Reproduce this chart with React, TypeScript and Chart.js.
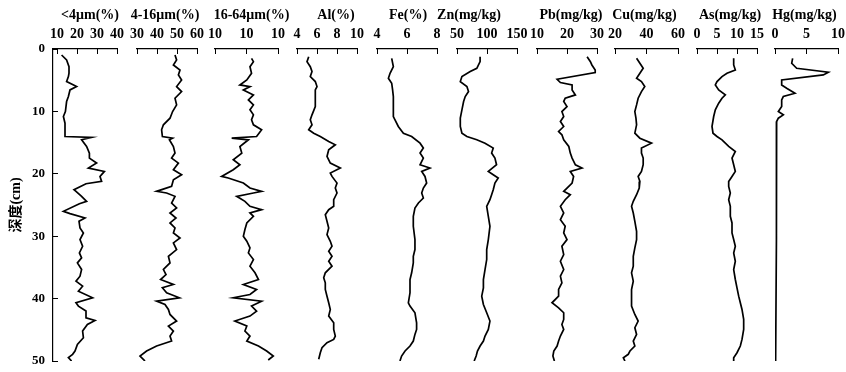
import React, { useEffect, useRef } from 'react';
import { Chart, registerables } from 'chart.js';

Chart.register(...registerables);

// ---------- data ----------
const depthTitle = '深度(cm)';
const depthTicks = [0, 10, 20, 30, 40, 50];

const panelTitles = ['<4μm(%)', '4-16μm(%)', '16-64μm(%)', 'Al(%)', 'Fe(%)', 'Zn(mg/kg)', 'Pb(mg/kg)', 'Cu(mg/kg)', 'As(mg/kg)', 'Hg(mg/kg)'];
const panelMin = [8, 30, 0, 4, 4, 50, 10, 20, 0, 0];
const panelMax = [40, 60, 20, 10, 8, 150, 30, 60, 15, 10];
const panelTickValues = [
  [10, 20, 30, 40], [30, 40, 50, 60], [0, 10, 20], [4, 6, 8, 10], [4, 6, 8],
  [50, 100, 150], [10, 20, 30], [20, 40, 60], [0, 5, 10, 15], [0, 5, 10],
];
const panelTickLabels = [
  ['10', '20', '30', '40'], ['30', '40', '50', '60'], ['10', '10', '10'], ['4', '6', '8', '10'], ['4', '6', '8'],
  ['50', '100', '150'], ['10', '20', '30'], ['20', '40', '60'], ['0', '5', '10', '15'], ['0', '5', '10'],
];

const fineDepth = [0.96, 1.76, 2.83, 3.89, 4.42, 5.22, 6.02, 6.56, 7.62, 8.42, 10.02, 10.82, 11.89, 12.95, 14.02, 14.18, 14.55, 15.62, 16.68, 17.48, 18.28, 19.08, 19.62, 20.42, 21.22, 21.59, 22.55, 22.81, 23.61, 24.41, 24.79, 26.01, 26.39, 27.08, 27.61, 28.68, 29.48, 30.54, 31.61, 32.68, 33.48, 34.28, 35.34, 36.41, 37.21, 38.01, 38.81, 39.87, 40.67, 41.2, 42.0, 43.07, 43.5, 44.14, 45.2, 46.27, 47.33, 48.4, 48.93, 49.47, 50.0];
const fineVal = [12.3, 14.8, 16.0, 16.0, 15.7, 14.8, 19.8, 16.5, 15.7, 14.8, 14.2, 13.2, 14.0, 14.0, 14.0, 27.3, 22.3, 24.8, 26.2, 26.2, 29.8, 25.7, 33.7, 31.5, 32.3, 24.5, 18.5, 19.5, 22.3, 24.8, 21.2, 13.2, 16.5, 24.0, 21.0, 21.5, 23.2, 21.5, 22.8, 21.2, 22.3, 20.2, 22.3, 21.5, 19.5, 22.8, 20.7, 27.8, 19.5, 20.7, 24.5, 24.5, 29.0, 25.2, 22.8, 23.2, 20.2, 19.0, 17.8, 15.7, 17.3];

const siltDepth = [0.96, 1.76, 2.56, 3.36, 4.16, 4.96, 6.02, 6.82, 7.89, 8.96, 10.02, 11.09, 12.15, 12.95, 14.02, 14.29, 14.55, 15.62, 16.68, 17.48, 18.28, 19.35, 20.15, 20.95, 22.01, 22.81, 23.08, 23.61, 24.68, 25.48, 26.28, 27.08, 27.88, 28.68, 29.48, 30.28, 31.08, 32.14, 33.21, 34.28, 35.34, 36.14, 36.94, 37.74, 38.27, 39.07, 39.87, 40.41, 40.94, 41.74, 42.54, 43.6, 44.4, 45.2, 46.0, 46.8, 47.6, 48.4, 49.2, 50.0];
const siltVal = [49.0, 49.8, 48.2, 51.5, 50.7, 52.3, 49.8, 52.3, 49.0, 49.8, 47.8, 46.5, 43.2, 42.3, 42.7, 47.8, 46.2, 48.2, 49.0, 47.3, 50.7, 48.2, 52.3, 48.2, 47.3, 39.8, 44.8, 49.0, 47.3, 49.8, 46.5, 49.5, 46.5, 49.0, 48.2, 51.5, 48.2, 49.8, 45.7, 46.5, 43.2, 44.5, 41.8, 48.2, 42.7, 44.8, 51.2, 39.8, 44.0, 45.7, 46.5, 49.8, 45.7, 48.2, 46.5, 47.3, 39.8, 34.8, 31.5, 34.0];

const coarseDepth = [1.49, 2.03, 2.83, 3.89, 4.96, 5.76, 6.02, 6.56, 7.36, 8.16, 8.96, 9.75, 10.55, 11.35, 12.15, 12.95, 14.02, 14.29, 14.55, 15.62, 16.68, 17.75, 18.55, 19.35, 20.42, 20.68, 21.48, 22.28, 22.81, 23.08, 23.61, 24.41, 25.21, 25.75, 26.28, 26.81, 27.88, 28.94, 30.01, 30.81, 31.88, 32.68, 33.74, 34.81, 35.87, 36.94, 37.74, 38.54, 39.34, 39.87, 40.41, 41.2, 42.0, 42.8, 43.6, 44.4, 45.2, 46.0, 46.8, 47.6, 48.4, 49.2, 49.84];
const coarseVal = [11.6, 12.2, 11.1, 11.6, 10.1, 7.9, 11.1, 9.0, 12.2, 10.6, 12.2, 11.1, 12.2, 11.6, 12.2, 14.8, 13.2, 5.3, 10.6, 7.9, 8.5, 5.8, 7.9, 5.8, 2.1, 4.2, 9.0, 11.1, 14.8, 12.2, 6.9, 9.5, 11.1, 14.8, 11.1, 12.2, 10.1, 9.5, 9.0, 10.1, 11.1, 10.6, 12.2, 11.1, 12.7, 13.8, 9.0, 13.2, 11.1, 5.8, 14.8, 11.6, 13.2, 11.1, 6.3, 10.1, 9.5, 11.1, 10.1, 13.8, 16.4, 18.5, 16.9];

const alDepth = [1.23, 2.03, 2.83, 3.62, 4.42, 5.22, 6.02, 6.56, 7.62, 9.22, 10.55, 11.35, 12.15, 12.95, 13.49, 14.02, 14.82, 15.35, 16.15, 17.22, 18.28, 19.08, 19.88, 20.42, 21.48, 22.28, 23.08, 24.15, 25.21, 25.75, 26.55, 27.61, 28.68, 29.74, 30.81, 31.61, 32.41, 33.21, 34.01, 34.81, 35.87, 36.67, 37.47, 38.54, 39.61, 40.67, 41.74, 42.8, 43.87, 44.94, 46.0, 46.54, 47.07, 47.87, 48.67, 49.73];
const alVal = [5.17, 5.0, 5.33, 5.5, 5.33, 5.83, 6.0, 5.83, 5.83, 5.83, 5.5, 5.33, 5.5, 5.17, 5.67, 6.33, 7.17, 7.83, 7.17, 7.0, 7.33, 8.33, 7.33, 7.5, 8.0, 7.83, 8.0, 7.67, 7.67, 7.17, 6.83, 7.0, 7.17, 7.0, 7.33, 7.5, 7.17, 7.5, 7.17, 7.5, 6.83, 6.67, 6.83, 6.83, 7.0, 7.17, 7.33, 7.17, 7.67, 7.67, 7.83, 7.67, 7.0, 6.5, 6.33, 6.17];

const feDepth = [1.49, 2.83, 3.89, 4.69, 5.49, 6.56, 7.62, 9.22, 10.82, 11.35, 12.42, 13.49, 14.02, 15.09, 15.88, 16.68, 17.48, 18.55, 19.08, 19.62, 20.42, 21.48, 22.28, 23.08, 23.88, 24.68, 25.48, 26.81, 28.41, 30.54, 32.14, 33.21, 34.28, 35.87, 36.94, 38.01, 39.07, 40.67, 41.2, 42.27, 43.87, 44.94, 45.74, 46.8, 47.6, 48.4, 49.2, 50.0];
const feVal = [4.98, 5.09, 4.87, 4.76, 4.98, 5.04, 5.09, 5.09, 5.09, 5.2, 5.42, 5.76, 6.31, 6.87, 7.09, 6.87, 7.09, 6.87, 7.53, 6.98, 7.2, 7.31, 7.09, 6.98, 7.09, 6.76, 6.53, 6.42, 6.42, 6.53, 6.53, 6.42, 6.42, 6.31, 6.2, 6.2, 6.2, 6.09, 6.2, 6.53, 6.64, 6.64, 6.53, 6.42, 6.2, 5.87, 5.64, 5.53];

const znDepth = [1.23, 2.03, 3.09, 3.62, 4.42, 5.22, 6.02, 6.82, 7.62, 8.42, 9.75, 11.09, 12.42, 13.49, 14.02, 14.55, 15.09, 15.88, 16.68, 17.48, 18.55, 19.62, 20.15, 20.68, 21.48, 22.55, 23.35, 24.15, 25.21, 26.81, 28.41, 30.54, 32.14, 33.74, 35.34, 36.94, 38.27, 39.61, 40.94, 42.27, 43.6, 44.94, 46.0, 46.8, 47.6, 48.4, 49.2, 50.0];
const znVal = [88.5, 88.5, 83.0, 72.0, 58.2, 55.5, 66.5, 69.2, 63.7, 61.0, 58.2, 55.5, 55.5, 58.2, 66.5, 83.0, 96.7, 110.4, 107.7, 113.2, 115.9, 102.2, 110.4, 118.7, 113.2, 110.4, 107.7, 104.9, 99.5, 102.2, 104.9, 102.2, 99.5, 99.5, 96.7, 94.0, 94.0, 91.2, 94.0, 99.5, 104.9, 102.2, 96.7, 94.0, 88.5, 84.1, 81.9, 78.6];

const pbDepth = [1.23, 2.03, 2.56, 3.36, 3.78, 4.85, 5.38, 5.76, 6.56, 7.36, 7.89, 8.42, 9.22, 10.02, 10.82, 11.62, 12.42, 13.22, 13.75, 14.55, 15.62, 16.68, 17.48, 18.55, 19.08, 19.62, 20.42, 21.48, 22.28, 22.81, 23.35, 24.15, 25.21, 26.28, 27.35, 28.41, 29.48, 30.54, 31.61, 32.94, 34.01, 35.34, 36.41, 37.47, 38.54, 39.61, 40.67, 41.47, 42.27, 43.34, 44.14, 44.94, 46.0, 46.8, 47.6, 48.4, 49.2, 50.0];
const pbVal = [26.7, 27.8, 28.3, 29.4, 29.4, 16.7, 17.8, 21.7, 21.7, 22.8, 19.4, 18.9, 20.0, 18.3, 18.9, 17.8, 18.9, 17.2, 18.3, 18.9, 20.6, 21.1, 21.7, 22.8, 25.0, 21.1, 22.2, 21.7, 20.0, 18.9, 21.1, 19.4, 17.8, 18.9, 17.8, 19.4, 18.9, 20.0, 18.3, 18.9, 17.8, 18.9, 17.8, 18.3, 17.2, 17.2, 15.0, 17.2, 18.9, 18.9, 18.3, 18.9, 17.8, 17.2, 16.7, 15.6, 15.3, 15.8];

const cuDepth = [1.49, 2.29, 3.09, 3.89, 4.69, 5.22, 6.02, 6.82, 7.89, 8.96, 10.02, 11.09, 12.15, 13.49, 14.29, 15.09, 15.88, 16.68, 17.48, 18.55, 19.62, 20.42, 21.22, 22.28, 23.35, 24.41, 25.21, 26.28, 27.61, 29.21, 30.54, 31.88, 33.21, 34.81, 35.87, 37.21, 38.54, 39.87, 41.2, 42.54, 43.6, 44.67, 45.74, 46.8, 47.6, 48.4, 48.93, 49.47, 50.0];
const cuVal = [33.7, 35.8, 37.9, 35.8, 33.7, 36.8, 38.9, 36.8, 34.7, 33.7, 32.6, 33.3, 33.7, 32.6, 35.8, 43.2, 36.8, 36.8, 37.9, 37.9, 36.8, 34.7, 35.8, 35.4, 33.7, 31.6, 30.5, 31.6, 32.6, 33.7, 33.7, 32.6, 31.6, 31.6, 30.5, 31.6, 30.5, 30.5, 30.5, 32.6, 34.7, 32.6, 33.7, 31.6, 32.6, 29.5, 28.4, 25.3, 26.3];

const asDepth = [1.49, 2.56, 3.36, 3.89, 4.42, 5.22, 5.76, 6.56, 7.36, 7.89, 8.69, 9.75, 10.82, 12.42, 13.49, 14.02, 14.55, 15.62, 16.42, 17.48, 18.55, 19.62, 20.42, 21.22, 22.01, 23.08, 24.15, 25.21, 26.81, 27.88, 29.48, 30.54, 31.61, 32.68, 34.01, 35.34, 36.94, 38.27, 39.61, 40.67, 41.74, 43.34, 44.94, 46.54, 47.6, 48.67, 49.47, 50.0];
const asVal = [9.17, 9.17, 9.58, 7.5, 6.25, 5.0, 4.58, 5.42, 7.08, 6.25, 5.42, 4.58, 4.17, 3.75, 4.0, 5.0, 6.25, 7.92, 9.58, 8.75, 9.17, 9.58, 8.75, 7.92, 7.92, 8.33, 7.92, 8.33, 8.33, 8.75, 8.75, 9.17, 9.58, 9.17, 9.58, 9.17, 9.58, 10.0, 10.42, 10.83, 11.25, 11.67, 11.67, 11.25, 10.83, 10.0, 9.17, 9.17];

const hgDepth = [1.49, 2.29, 3.09, 3.73, 4.16, 4.96, 5.76, 6.29, 7.09, 7.62, 8.16, 9.22, 10.02, 10.55, 11.09, 11.62, 12.42, 19.9, 30.5, 50.0];
const hgVal = [2.8, 2.65, 3.44, 8.47, 7.67, 1.06, 1.06, 1.85, 3.17, 1.32, 1.06, 1.06, 0.53, 1.32, 0.53, 0.26, 0.26, 0.26, 0.16, 0.1];

const seriesDepths = [fineDepth, siltDepth, coarseDepth, alDepth, feDepth, znDepth, pbDepth, cuDepth, asDepth, hgDepth];
const seriesValues = [fineVal, siltVal, coarseVal, alVal, feVal, znVal, pbVal, cuVal, asVal, hgVal];

// ---------- layout ----------
// pixel widths of the stacked top-axis strip, left to right (panels and blank gaps)
const stripLayout: Array<{ panel?: number; gap?: number; w: number }> = [
  { panel: 0, w: 64 }, { gap: 0, w: 20 },
  { panel: 1, w: 60 }, { gap: 1, w: 18 },
  { panel: 2, w: 63 }, { gap: 2, w: 19 },
  { panel: 3, w: 60 }, { gap: 3, w: 20 },
  { panel: 4, w: 60 }, { gap: 4, w: 20 },
  { panel: 5, w: 60 }, { gap: 5, w: 20 },
  { panel: 6, w: 60 }, { gap: 6, w: 18 },
  { panel: 7, w: 63 }, { gap: 7, w: 19 },
  { panel: 8, w: 60 }, { gap: 8, w: 18 },
  { panel: 9, w: 63 },
];
// horizontal nudge of each panel title relative to its axis centre
const titleShift = [5, -2, 5, 9, 1, -18, 4, -2, 3, -2];
const TITLE_Y = 15;

const FONT = "'Liberation Serif', 'Times New Roman', 'Noto Sans CJK SC', serif";
const INK = '#000';

const panelTitlePlugin = {
  id: 'panelTitles',
  afterDraw(chart: any) {
    const ctx = chart.ctx;
    ctx.save();
    ctx.font = `bold 14px ${FONT}`;
    ctx.fillStyle = INK;
    ctx.textAlign = 'center';
    ctx.textBaseline = 'middle';
    panelTitles.forEach((t, i) => {
      const s = chart.scales['x' + i];
      if (!s) return;
      ctx.fillText(t, (s.left + s.right) / 2 + titleShift[i], TITLE_Y);
    });
    ctx.restore();
  },
};

export default function App() {
  const ref = useRef<HTMLCanvasElement | null>(null);

  useEffect(() => {
    if (!ref.current) return;

    const scales: any = {
      y: {
        type: 'linear',
        position: 'left',
        reverse: true,
        min: 0,
        max: 50,
        afterBuildTicks: (s: any) => { s.ticks = depthTicks.map((v) => ({ value: v })); },
        afterFit: (s: any) => { s.width = 53; s.paddingTop = 0; s.paddingBottom = 0; },
        ticks: { color: INK, font: { family: FONT, size: 13, weight: 'bold' }, padding: 13 },
        grid: { drawOnChartArea: false, drawTicks: true, tickLength: -5, color: INK, lineWidth: 1 },
        border: { display: true, color: INK, width: 1.2 },
        title: { display: true, text: depthTitle, color: INK, font: { family: FONT, size: 14, weight: 'bold' }, padding: { top: 8, bottom: 0 } },
      },
    };

    stripLayout.forEach((seg, order) => {
      const common = {
        type: 'linear',
        axis: 'x',
        position: 'top',
        stack: 'strip',
        stackWeight: seg.w,
        weight: 100 - order,
      };
      if (seg.panel !== undefined) {
        const i = seg.panel;
        scales['x' + i] = {
          ...common,
          min: panelMin[i],
          max: panelMax[i],
          afterBuildTicks: (s: any) => { s.ticks = panelTickValues[i].map((v) => ({ value: v })); },
          afterFit: (s: any) => { s.height = 49; s.paddingLeft = 0; s.paddingRight = 0; },
          ticks: {
            color: INK,
            autoSkip: false,
            maxRotation: 0,
            minRotation: 0,
            padding: 11,
            font: { family: FONT, size: 14, weight: 'bold' },
            callback: (_v: any, idx: number) => panelTickLabels[i][idx],
          },
          grid: { drawOnChartArea: false, drawTicks: true, tickLength: -5, color: INK, lineWidth: 1 },
          border: { display: true, color: INK, width: 1.3 },
          title: { display: false },
        };
      } else {
        scales['gap' + seg.gap] = { ...common, display: false, min: 0, max: 1 };
      }
    });

    const datasets = seriesValues.map((vals, i) => ({
      label: panelTitles[i],
      data: vals.map((v, j) => ({ x: v, y: seriesDepths[i][j] })),
      xAxisID: 'x' + i,
      yAxisID: 'y',
      borderColor: INK,
      borderWidth: 1.7,
      pointRadius: 0,
      fill: false,
      tension: 0,
    }));

    const chart = new Chart(ref.current, {
      type: 'line',
      data: { datasets },
      options: {
        animation: false,
        responsive: false,
        events: [],
        layout: { padding: { top: 0, left: 0, right: 8, bottom: 11 } },
        plugins: { legend: { display: false }, tooltip: { enabled: false }, title: { display: false } },
        scales,
      } as any,
      plugins: [panelTitlePlugin],
    });

    return () => chart.destroy();
  }, []);

  return (
    <div style={{ position: 'absolute', left: 0, top: 0, width: 846, height: 372, background: '#fff' }}>
      <canvas ref={ref} width={846} height={372} style={{ display: 'block' }} />
    </div>
  );
}
